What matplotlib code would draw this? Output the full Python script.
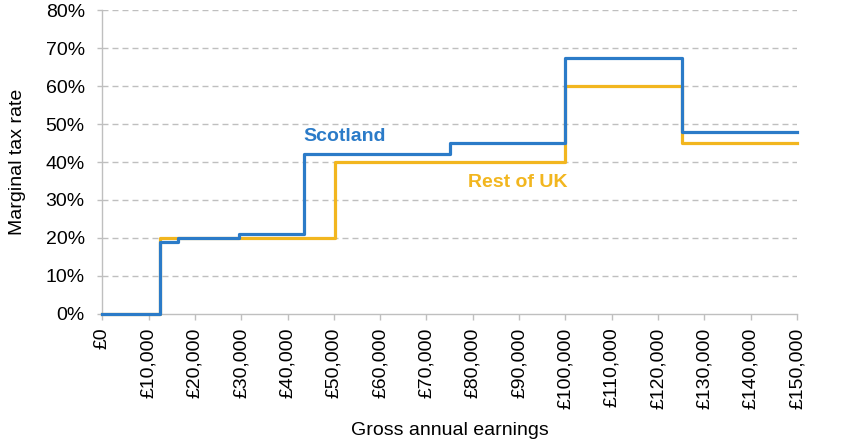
import numpy as np
import matplotlib.pyplot as plt
from matplotlib.ticker import FuncFormatter

# income thresholds (start of each band) and marginal rates (%)
scot_x = [0, 12570, 16400, 29600, 43660, 75000, 100000, 125140, 150000]
scot_rate = [0, 19, 20, 21, 42, 45, 67.5, 48, 48]
ruk_x = [0, 12570, 50270, 100000, 125140, 150000]
ruk_rate = [0, 20, 40, 60, 45, 45]

x_ticks = np.arange(0, 150001, 10000)
y_ticks = np.arange(0, 81, 10)

blue = "#2B7BC8"
gold = "#F2B61F"
grey = "#BFBFBF"

plt.rcParams["font.family"] = ["Liberation Sans", "DejaVu Sans"]

fig = plt.figure(figsize=(8.48, 4.45), dpi=100)
ax = fig.add_axes([0.1206, 0.2944, 0.8193, 0.6831])

ax.step(ruk_x, ruk_rate, where="post", color=gold, lw=2.3, zorder=3,
        clip_on=False)
ax.step(scot_x, scot_rate, where="post", color=blue, lw=2.3, zorder=4,
        clip_on=False)

ax.text(43400, 46.8, "Scotland", color=blue, fontsize=14, fontweight="bold",
        ha="left", va="center")
ax.text(79000, 34.6, "Rest of UK", color=gold, fontsize=14, fontweight="bold",
        ha="left", va="center")

ax.set_xlim(0, 150000)
ax.set_ylim(0, 80)
ax.set_xticks(x_ticks)
ax.set_yticks(y_ticks)
ax.xaxis.set_major_formatter(FuncFormatter(lambda v, p: f"£{int(v):,}"))
ax.yaxis.set_major_formatter(FuncFormatter(lambda v, p: f"{int(v)}%"))
ax.tick_params(axis="x", rotation=90, labelsize=14, color=grey, length=4.3,
               width=1, pad=5.5)
ax.tick_params(axis="y", labelsize=14, color=grey, length=3.6, width=1, pad=9)

for y in y_ticks[1:]:
    ax.axhline(y, color=grey, lw=1, ls=(0, (4.3, 2.9)), zorder=1)

for side in ["top", "right"]:
    ax.spines[side].set_visible(False)
for side in ["left", "bottom"]:
    ax.spines[side].set_color(grey)
    ax.spines[side].set_linewidth(1)

ax.set_xlabel("Gross annual earnings", fontsize=14, va="center")
ax.set_ylabel("Marginal tax rate", fontsize=14, va="center")
ax.xaxis.set_label_coords(0.5, -0.382)
ax.yaxis.set_label_coords(-0.1216, 0.5)

plt.savefig("out.png", dpi=100)
